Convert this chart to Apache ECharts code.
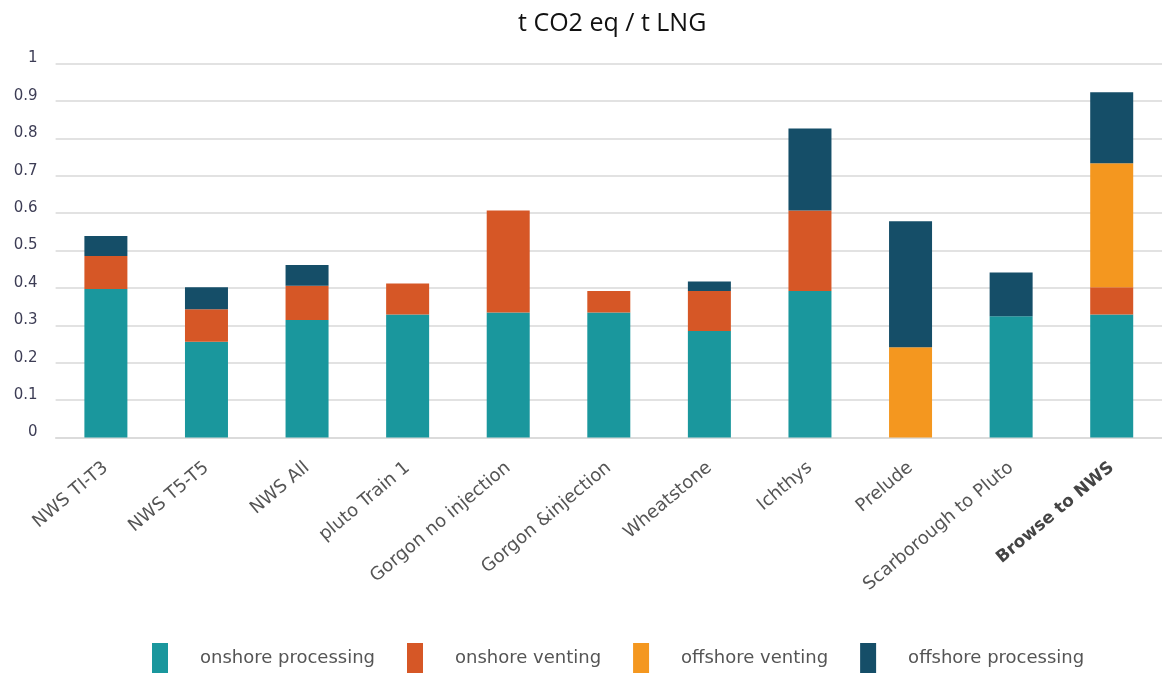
<!DOCTYPE html>
<html>
<head>
<meta charset="utf-8">
<script src="https://cdn.jsdelivr.net/npm/echarts@6/dist/echarts.min.js"></script>
<style>
  html, body { margin: 0; padding: 0; background: #fff; }
  #chart { width: 1162px; height: 676px; }
</style>
</head>
<body>
<div id="chart"></div>
<script>
const categories = ['NWS TI-T3', 'NWS T5-T5', 'NWS All', 'pluto Train 1', 'Gorgon no injection',
  'Gorgon &injection', 'Wheatstone', 'Ichthys', 'Prelude', 'Scarborough to Pluto', 'Browse to NWS']

const onshoreProcessing = [0.397, 0.256, 0.314, 0.329, 0.334, 0.334, 0.285, 0.392, 0, 0.324, 0.329]
const onshoreVenting = [0.088, 0.087, 0.092, 0.083, 0.273, 0.058, 0.107, 0.215, 0, 0, 0.073]
const offshoreVenting = [0, 0, 0, 0, 0, 0, 0, 0, 0.241, 0, 0.331]
const offshoreProcessing = [0.054, 0.059, 0.055, 0, 0, 0, 0.025, 0.219, 0.337, 0.117, 0.19]

const yTicks = [0, 0.1, 0.2, 0.3, 0.4, 0.5, 0.6, 0.7, 0.8, 0.9, 1]

const chart = echarts.init(document.getElementById('chart'))

const makeSeries = (name, data, color) => ({
  name,
  type: 'bar',
  stack: 'total',
  barWidth: 43,
  data,
  itemStyle: { color },
  emphasis: { disabled: true }
})

const option = {
  animation: false,
  title: {
    text: 't CO2 eq / t LNG',
    left: 513,
    top: 6,
    textStyle: {
      fontFamily: 'Open Sans',
      fontWeight: 'normal',
      fontSize: 25,
      color: '#111'
    }
  },
  legend: {
    top: 643,
    left: 152,
    padding: 0,
    itemWidth: 16,
    itemHeight: 30,
    itemGap: 32,
    icon: 'rect',
    textStyle: {
      fontFamily: 'DejaVu Sans',
      fontSize: 18,
      color: '#555',
      padding: [0, 0, 0, 27]
    }
  },
  grid: {
    left: 55.6,
    top: 63.5,
    width: 1119,
    height: 374
  },
  xAxis: {
    type: 'category',
    data: categories,
    axisLine: { lineStyle: { color: '#d9d9d9', width: 1.5 } },
    axisTick: { show: false },
    axisLabel: {
      interval: 0,
      rotate: 40,
      margin: 28,
      fontFamily: 'DejaVu Sans',
      fontSize: 18,
      color: '#555',
      formatter: v => v === 'Browse to NWS' ? '{b|' + v + '}' : v,
      rich: {
        b: { fontFamily: 'DejaVu Sans', fontSize: 17, fontWeight: 'bold', color: '#444' }
      }
    }
  },
  yAxis: {
    type: 'value',
    min: yTicks[0],
    max: yTicks[yTicks.length - 1],
    interval: 0.1,
    axisLine: { show: false },
    axisTick: { show: false },
    splitLine: { lineStyle: { color: '#d9d9d9', width: 1.5 } },
    axisLabel: {
      margin: 18,
      fontFamily: 'DejaVu Sans',
      fontSize: 15,
      color: '#3d3d55',
      verticalAlign: 'bottom',
      lineHeight: 10,
      formatter: v => String(Math.round(v * 10) / 10)
    }
  },
  series: [
    makeSeries('onshore processing', onshoreProcessing, '#1A979D'),
    makeSeries('onshore venting', onshoreVenting, '#D65726'),
    makeSeries('offshore venting', offshoreVenting, '#F4971F'),
    makeSeries('offshore processing', offshoreProcessing, '#154E68')
  ]
}

chart.setOption(option)
</script>
</body>
</html>
